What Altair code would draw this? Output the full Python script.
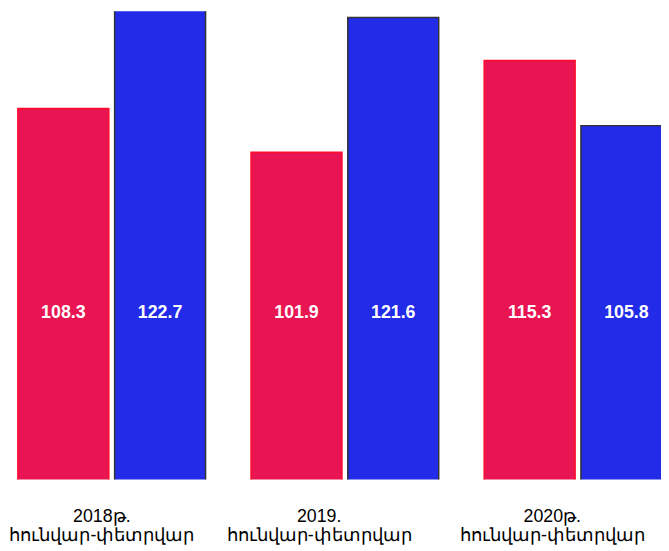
import altair as alt
import pandas as pd

periods = ["2018թ.|հունվար-փետրվար", "2019.|հունվար-փետրվար", "2020թ.|հունվար-փետրվար"]
series = ["Շարք 1", "Շարք 2"]
red_values = [108.3, 101.9, 115.3]
blue_values = [122.7, 121.6, 105.8]

rows = []
for p, r, b in zip(periods, red_values, blue_values):
    rows.append({"period": p, "series": series[0], "value": r})
    rows.append({"period": p, "series": series[1], "value": b})
df = pd.DataFrame(rows)

x = alt.X(
    "period:N",
    sort=periods,
    scale=alt.Scale(range=[0, 682], paddingInner=0.195, paddingOuter=0.0424),
    axis=alt.Axis(
        title=None,
        labelExpr="split(datum.label, '|')",
        labelAngle=0,
        domain=False,
        ticks=False,
        labelFont="Liberation Sans",
        labelFontSize=18,
        labelColor="#000000",
        labelPadding=28,
        labelOffset={"condition": {"test": f"datum.value == '{periods[0]}'", "value": -10}, "value": -26},
        labelLineHeight=20,
        labelOverlap=False,
        labelBound=False,
        labelLimit=400,
    ),
)
xo = alt.XOffset("series:N", sort=series, scale=alt.Scale(paddingInner=0.06))
y = alt.Y(
    "value:Q",
    scale=alt.Scale(domain=[54.1, 122.5], nice=False, zero=False),
    axis=None,
)

bars = alt.Chart(df).mark_bar(clip=True, strokeWidth=1.5).encode(
    x=x,
    xOffset=xo,
    y=y,
    color=alt.Color("series:N", scale=alt.Scale(domain=series, range=["#E81552", "#222BE8"]), legend=None),
    stroke=alt.Stroke("series:N", scale=alt.Scale(domain=series, range=["#FF0A2A", "#333333"]), legend=None),
)

labels = alt.Chart(df).mark_text(
    font="Liberation Sans", fontSize=18, fontWeight="bold", color="white", baseline="middle", align="center"
).encode(
    x=x,
    xOffset=xo,
    y=alt.value(305),
    text=alt.Text("value:Q", format=".1f"),
)

chart = (
    alt.layer(bars, labels)
    .properties(
        width=661,
        height=474,
        padding={"left": 0, "top": 0, "right": 0, "bottom": 70},
        autosize=alt.AutoSizeParams(type="none"),
        background="white",
    )
    .configure_view(stroke=None)
)

chart.save("out.html", embed_options={"renderer": "svg", "actions": False})
